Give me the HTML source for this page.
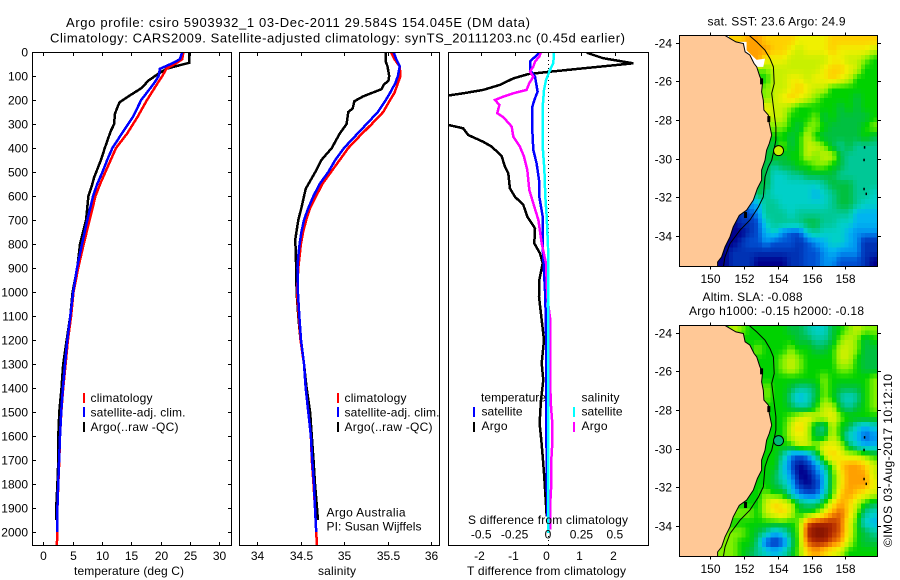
<!DOCTYPE html>
<html lang="en">
<head>
<meta charset="utf-8">
<title>Argo profile 5903932_1</title>
<style>
html,body{margin:0;padding:0;background:#fff;}
svg{display:block;}
text{font-family:"Liberation Sans",Arial,sans-serif;font-size:12px;fill:#000;}
.tt{font-size:13px;}
</style>
</head>
<body>
<svg id="chart" xmlns="http://www.w3.org/2000/svg" width="900" height="580" viewBox="0 0 900 580">
<defs>
<clipPath id="clip-temp"><rect x="32.5" y="52" width="199" height="494"/></clipPath>
<clipPath id="clip-sal"><rect x="239.5" y="52" width="200" height="494"/></clipPath>
<clipPath id="clip-diff"><rect x="448.5" y="52" width="200" height="494"/></clipPath>
<clipPath id="clip-sst"><rect x="679.5" y="35.5" width="198" height="231"/></clipPath>
<clipPath id="clip-sla"><rect x="679.5" y="325.5" width="198" height="231"/></clipPath>
</defs>
<rect width="900" height="580" fill="#fff"/>
<text class="tt" x="66" y="27" textLength="464" lengthAdjust="spacing">Argo profile: csiro 5903932_1 03-Dec-2011 29.584S 154.045E (DM data)</text>
<text class="tt" x="50" y="42.5" textLength="575" lengthAdjust="spacing">Climatology: CARS2009. Satellite-adjusted climatology: synTS_20111203.nc (0.45d earlier)</text>
<g id="temp-panel"></g>
<g id="sal-panel"></g>
<g id="diff-panel"></g>
<g id="sst-map"></g>
<g id="sla-map"></g>
<text x="74" y="575" textLength="110" lengthAdjust="spacing">temperature (deg C)</text>
<text x="318" y="575" textLength="38" lengthAdjust="spacing">salinity</text>
<text x="467" y="575" textLength="159" lengthAdjust="spacing">T difference from climatology</text>
<text x="468" y="524" textLength="160" lengthAdjust="spacing">S difference from climatology</text>
<g>
<rect x="83" y="393" width="2" height="10" fill="#f00"/>
<rect x="83" y="407" width="2" height="10" fill="#00f"/>
<rect x="83" y="422" width="2" height="10" fill="#000"/>
<text x="90.5" y="402" textLength="62" lengthAdjust="spacing">climatology</text>
<text x="90.5" y="416.5" textLength="95" lengthAdjust="spacing">satellite-adj. clim.</text>
<text x="90.5" y="431" textLength="88" lengthAdjust="spacing">Argo(..raw -QC)</text>
</g>
<g>
<rect x="337" y="393" width="2" height="10" fill="#f00"/>
<rect x="337" y="407" width="2" height="10" fill="#00f"/>
<rect x="337" y="422" width="2" height="10" fill="#000"/>
<text x="344.5" y="402" textLength="62" lengthAdjust="spacing">climatology</text>
<text x="344.5" y="416.5" textLength="95" lengthAdjust="spacing">satellite-adj. clim.</text>
<text x="344.5" y="431" textLength="88" lengthAdjust="spacing">Argo(..raw -QC)</text>
</g>
<text x="326.5" y="516.5" textLength="79" lengthAdjust="spacing">Argo Australia</text>
<text x="326.5" y="530.5" textLength="95" lengthAdjust="spacing">PI: Susan Wijffels</text>
<g>
<text x="481" y="401.5" textLength="65" lengthAdjust="spacing">temperature</text>
<text x="481.5" y="415.5" textLength="41" lengthAdjust="spacing">satellite</text>
<text x="481.5" y="430" textLength="26" lengthAdjust="spacing">Argo</text>
<rect x="473" y="407" width="2" height="10" fill="#00f"/>
<rect x="473" y="422" width="2" height="10" fill="#000"/>
<text x="581.5" y="401.5" textLength="38" lengthAdjust="spacing">salinity</text>
<text x="581.5" y="415.5" textLength="41" lengthAdjust="spacing">satellite</text>
<text x="581.5" y="430" textLength="26" lengthAdjust="spacing">Argo</text>
<rect x="573" y="407" width="2" height="10" fill="#0ff"/>
<rect x="573" y="422" width="2" height="10" fill="#f0f"/>
</g>
<text x="707.5" y="25.5" textLength="138" lengthAdjust="spacing">sat. SST: 23.6 Argo: 24.9</text>
<text x="702.5" y="301" textLength="100" lengthAdjust="spacing">Altim. SLA: -0.088</text>
<text x="689" y="315" textLength="175" lengthAdjust="spacing">Argo h1000: -0.15 h2000: -0.18</text>
<text transform="translate(892,547) rotate(-90)" x="0" y="0" textLength="173" lengthAdjust="spacing">©IMOS 03-Aug-2017 10:12:10</text>
</svg>
<script>
// ---- axis tick values ----
var depthTicks = [0,100,200,300,400,500,600,700,800,900,1000,1100,1200,1300,1400,1500,1600,1700,1800,1900,2000];
var tempTicks = [0,5,10,15,20,25,30];
var salTicks = [34,34.5,35,35.5,36];
var salTickLabels = ['34','34.5','35','35.5','36'];
var tDiffTicks = [-2,-1,0,1,2];
var sDiffTicks = [-0.5,-0.25,0,0.25,0.5];
var sDiffTickLabels = ['-0.5','-0.25','0','0.25','0.5'];
var lonTicks = [150,152,154,156,158];
var latTicks = [-24,-26,-28,-30,-32,-34];

// ---- temperature profiles ----
var climTempDepth = [0,30,45,70,100,130,200,270,340,400,450,500,550,600,700,800,900,1000,1100,1200,1300,1400,1500,1600,1700,1800,1900,2000,2057];
var climTemp = [23.9,23.7,22.8,21.0,20.3,19.5,17.7,16.1,14.3,12.4,11.5,10.6,9.7,8.9,7.9,6.9,5.95,5.15,4.75,4.2,3.8,3.4,3.07,2.85,2.73,2.56,2.4,2.4,2.3];
var satTempDepth = [0,30,45,70,100,130,200,270,340,400,450,500,550,600,700,800,900,1000,1100,1200,1300,1400,1500,1600,1700,1800,1900,2000];
var satTemp = [23.7,23.3,22.2,19.9,19.7,18.9,16.7,15.3,13.4,11.8,10.9,10.1,9.2,8.5,7.5,6.6,5.75,5.1,4.6,4.1,3.7,3.35,3.05,2.85,2.7,2.55,2.4,2.35];
var argoTempDepth = [0,45,55,70,95,120,150,185,210,240,260,300,330,400,450,520,560,600,700,800,900,1000,1100,1200,1300,1400,1500,1600,1700,1800,1900,1950];
var argoTemp = [24.9,24.9,23.3,21,19.35,17.9,16.8,14.5,13,12.5,12.2,12.1,11.5,10.5,9.85,8.7,8.26,7.7,7.3,6.26,5.8,5,4.6,4,3.4,3.1,2.73,2.56,2.56,2.4,2.2,2.2];

// ---- salinity profiles ----
var climSalDepth = [0,30,60,100,130,170,200,250,300,350,400,450,500,550,600,650,700,750,800,850,900,1000,1100,1200,1300,1400,1500,1600,1700,1800,1900,2000,2057];
var climSal = [35.54,35.58,35.64,35.65,35.62,35.58,35.53,35.45,35.32,35.18,35.05,34.95,34.85,34.75,34.68,34.61,34.565,34.53,34.505,34.49,34.475,34.46,34.48,34.5,34.54,34.56,34.59,34.62,34.63,34.65,34.667,34.68,34.69];
var satSalDepth = [0,30,60,100,130,170,200,250,300,350,400,450,500,550,600,650,700,750,800,850,900,1000,1100,1200,1300,1400,1500,1600,1700,1800,1900,2000];
var satSal = [35.57,35.6,35.64,35.62,35.59,35.53,35.48,35.39,35.26,35.13,35.0,34.9,34.82,34.72,34.65,34.59,34.54,34.51,34.49,34.475,34.465,34.47,34.486,34.506,34.54,34.56,34.59,34.62,34.635,34.655,34.667,34.68];
var argoSalDepth = [0,40,60,100,120,135,155,185,205,235,250,300,340,400,450,500,570,650,700,780,900,1000,1100,1200,1300,1400,1500,1600,1700,1800,1900,1950];
var argoSal = [35.48,35.48,35.5,35.52,35.51,35.46,35.43,35.22,35.12,35.1,35.05,35.03,34.95,34.86,34.74,34.67,34.56,34.51,34.475,34.44,34.45,34.455,34.475,34.5,34.54,34.57,34.61,34.63,34.65,34.667,34.69,34.7];

// ---- differences from climatology ----
var argoTDiffDepth = [0,5,26,47,82,92,110,137,158,172,186,297,318,346,374,394,433,478,506,568,603,637,686,735,797,839,880,950,1019,1117,1200,1297,1367,1450,1547,1617,1686,1755,1839,1936];
var argoTDiff = [1.16,1.2,1.65,2.55,0.06,-0.59,-1.04,-1.44,-1.94,-2.54,-3.2,-3.2,-2.54,-2.39,-1.94,-1.69,-1.39,-1.29,-1.19,-1.14,-0.99,-0.74,-0.62,-0.39,-0.41,-0.24,-0.16,-0.26,-0.27,-0.19,-0.12,-0.19,-0.14,-0.21,-0.25,-0.2,-0.16,-0.12,-0.08,-0.04];
var satTDiffDepth = [0,40,75,103,165,193,228,325,408,464,533,603,686,811,1019,1172,1450,1728,1936];
var satTDiff = [-0.24,-0.54,-0.54,-0.39,-0.31,-0.39,-0.47,-0.47,-0.44,-0.34,-0.27,-0.26,-0.16,-0.16,-0.08,-0.06,-0.06,-0.04,-0.02];
var argoSDiffDepth = [0,19,40,61,82,103,130,158,172,186,200,221,255,272,311,353,394,436,492,575,631,700,797,881,1019,1117,1172,1300,1400,1470,1547,1630,1700,1800,1900,1990];
var argoSDiff = [-0.052,-0.065,-0.097,-0.11,-0.135,-0.11,-0.14,-0.16,-0.26,-0.334,-0.397,-0.364,-0.38,-0.334,-0.272,-0.26,-0.21,-0.18,-0.155,-0.14,-0.11,-0.072,-0.047,-0.015,-0.005,0.017,0.017,0.017,0.017,0.022,0.032,0.032,0.025,0.025,0.015,0.015];
var satSDiffDepth = [0,47,75,117,158,228,394,492,603,686,811,1019,2005];
var satSDiff = [0.045,0.04,0.015,-0.015,-0.03,-0.04,-0.04,-0.027,-0.02,-0.01,0,0.002,0.002];

// ---- map values: one row per 0.5 deg latitude, one level code per column, '.' = no data ----
var sstRows = [
"......ccddccccbbbbcccccc",
".......ddddccbabbbcbbbba",
"........ddbbbaaaaabbaa98",
".........99aaaaaabccba88",
".........88aabbabbcba888",
".........99aabcbaa888888",
".........99abcba98888788",
".........bbaa98888878788",
"..........aaa88897877778",
"..........99987998777789",
"..........88878a87777787",
".........777978aa9767666",
".........778788a9aa76666",
"........7776778899876666",
"........7775566777766666",
"........7775555556777666",
".......44765555545677665",
".......33466555555677655",
"......112366656666666444",
".....0011256666776655444",
".....0001245322565554333",
"....00012232221234554311",
"....00111111111223433311",
"...000111000011223322210"
];
var slaRows = [
".....8a98888877655789a99",
".......8888888776679a978",
"........89888988778aa977",
".........8889a98888aa877",
".........8889a9888899877",
".........888888889888889",
".........898876679877789",
".........898864579865689",
"..........8887668aa76789",
"..........8889abaab98888",
"..........888aca76a87545",
".........8888aba77a85423",
".........88888aa9bba7544",
"........888863236acbaa98",
"........88885201369cddca",
"........88875300248bddda",
"........88876410148bdddb",
".......888988532258cdcba",
".......888acba7668bdca87",
"......9998abca889bdec965",
".....8888888889efffeb854",
".....9998764579fggfeb876",
".....9988621269effeda877",
"....99987654579cdcba8888"
];
var coastLon = [150.87,151.17,151.52,151.96,152.06,152.35,152.59,152.75,152.94,153.10,153.04,153.14,153.18,153.44,153.5,153.64,153.5,153.34,153.24,153.04,153.04,152.79,152.55,152.15,151.72,151.36,151.17,150.87,150.67,150.43,150.43];
var coastLat = [-23.64,-23.79,-23.97,-24.05,-24.48,-24.65,-25.08,-25.26,-25.77,-26.03,-26.55,-26.98,-27.49,-27.75,-28.18,-28.78,-29.21,-29.56,-30.08,-30.59,-31.11,-31.54,-32.14,-32.66,-32.92,-33.52,-34.03,-34.55,-35.07,-35.33,-35.6];
var contourLon = [152.31,152.75,153.24,153.54,153.74,153.79,153.64,153.74,153.89,153.89,153.77,153.64,153.44,153.24,153.14,152.85,152.35,151.76,151.17,150.87,150.77];
var contourLat = [-23.64,-23.97,-24.4,-24.83,-25.26,-26.12,-26.63,-27.32,-28.35,-29.04,-29.56,-30.08,-30.42,-30.94,-31.97,-32.49,-33.17,-33.69,-34.38,-35.07,-35.6];
var noDataLon = [151.52,152.15,152.15,152.45,152.75,153.24,153.14,152.7];
var noDataLat = [-23.97,-23.97,-24.4,-24.65,-24.9,-24.83,-25.26,-25.26];
var islandLon = [159.1,159.07,159.07,159.2];
var islandLat = [-29.35,-30,-31.5,-31.75];
var coastBlobLon = [152.95,153.38,152.0];
var coastBlobLat = [-25.85,-27.8,-32.75];
var profileLon = 154.045;
var profileLat = -29.584;

var levelColors = ['#00008c','#0032b4','#0050d2','#0090f0','#00b4f0','#00d0c8','#00c896','#00c040','#00d200','#80f000','#c8f000','#f0f000','#ffd000','#ffa000','#e06000','#b02800','#801000'];

var NS = 'http://www.w3.org/2000/svg';
function make(tag, attrs, parent) {
  var el = document.createElementNS(NS, tag);
  for (var k in attrs) el.setAttribute(k, attrs[k]);
  parent.appendChild(el);
  return el;
}

// axis functions
function depthY(d) { return 52 + 0.24 * d; }
function tempX(t) { return 43.3 + 5.86 * t; }
function salX(s) { return 257 + 87 * (s - 34); }
function tDiffX(t) { return 548 + 33.4 * t; }
function sDiffX(s) { return 548 + 133.6 * s; }
function lonX(lon) { return 710.3 + 16.87 * (lon - 150); }
function latY(lat, top) { return top + 7 + 19.37 * (-24 - lat); }

function drawProfile(parent, clipId, name, color, depths, values, xFn, width) {
  var pts = [];
  for (var i = 0; i < depths.length; i++) pts.push(xFn(values[i]).toFixed(1) + ',' + depthY(depths[i]).toFixed(1));
  var line = make('polyline', {points: pts.join(' '), fill: 'none', stroke: color, 'stroke-width': width, 'clip-path': 'url(#' + clipId + ')', 'shape-rendering': 'crispEdges'}, parent);
  
  
}

function frame(parent, x, y, w, h) {
  var r = make('rect', {x: x, y: y, width: w, height: h, fill: 'none', stroke: '#000', 'stroke-width': 1, 'shape-rendering': 'crispEdges'}, parent);
  
  
}
function tick(parent, x1, y1, x2, y2) {
  var t = make('line', {x1: x1, y1: y1, x2: x2, y2: y2, stroke: '#000', 'stroke-width': 1, 'shape-rendering': 'crispEdges'}, parent);
  
  
}
function label(parent, x, y, str, anchor) {
  var t = make('text', {x: x, y: y, 'text-anchor': anchor}, parent);
  t.textContent = str;
  
  
}

// temperature panel
var tp = document.getElementById('temp-panel');
drawProfile(tp, 'clip-temp', 'series-argo-temperature', '#000', argoTempDepth, argoTemp, tempX, 2.5);
drawProfile(tp, 'clip-temp', 'series-climatology-temperature', '#f00', climTempDepth, climTemp, tempX, 2.5);
drawProfile(tp, 'clip-temp', 'series-satellite-temperature', '#00f', satTempDepth, satTemp, tempX, 2.5);
frame(tp, 32.5, 52.5, 199, 493);
depthTicks.forEach(function (d) {
  var y = Math.round(depthY(d)) + 0.5;
  tick(tp, 32.5, y, 36, y);
  tick(tp, 228, y, 231.5, y);
  label(tp, 28, y + 4, String(d), 'end');
});
tempTicks.forEach(function (t) {
  var x = Math.round(tempX(t)) + 0.5;
  tick(tp, x, 52.5, x, 56);
  tick(tp, x, 542, x, 545.5);
  label(tp, x, 560, String(t), 'middle');
});

// salinity panel
var sp = document.getElementById('sal-panel');
drawProfile(sp, 'clip-sal', 'series-argo-salinity', '#000', argoSalDepth, argoSal, salX, 2.5);
drawProfile(sp, 'clip-sal', 'series-climatology-salinity', '#f00', climSalDepth, climSal, salX, 2.5);
drawProfile(sp, 'clip-sal', 'series-satellite-salinity', '#00f', satSalDepth, satSal, salX, 2.5);
frame(sp, 239.5, 52.5, 200, 493);
salTicks.forEach(function (s, i) {
  var x = Math.round(salX(s)) + 0.5;
  tick(sp, x, 52.5, x, 56);
  tick(sp, x, 542, x, 545.5);
  label(sp, x, 560, salTickLabels[i], 'middle');
});

// difference panel
var dp = document.getElementById('diff-panel');
var zero = make('line', {x1: 548.5, y1: 52, x2: 548.5, y2: 545, stroke: '#000', 'stroke-width': 1, 'stroke-dasharray': '1 3', 'shape-rendering': 'crispEdges'}, dp);


drawProfile(dp, 'clip-diff', 'series-argo-t-difference', '#000', argoTDiffDepth, argoTDiff, tDiffX, 2.5);
drawProfile(dp, 'clip-diff', 'series-satellite-t-difference', '#00f', satTDiffDepth, satTDiff, tDiffX, 2.5);
drawProfile(dp, 'clip-diff', 'series-argo-s-difference', '#f0f', argoSDiffDepth, argoSDiff, sDiffX, 2.5);
drawProfile(dp, 'clip-diff', 'series-satellite-s-difference', '#0ff', satSDiffDepth, satSDiff, sDiffX, 2.5);
frame(dp, 448.5, 52.5, 200, 493);
tDiffTicks.forEach(function (t) {
  var x = Math.round(tDiffX(t)) + 0.5;
  tick(dp, x, 52.5, x, 56);
  label(dp, x - 2, 560, String(t), 'middle');
});
sDiffTicks.forEach(function (s, i) {
  label(dp, sDiffX(s), 538.5, sDiffTickLabels[i], 'middle');
});

// colour for a fractional level, blending neighbouring palette entries
function hexPart(hex, p) { return parseInt(hex.substr(1 + 2 * p, 2), 16); }
function levelColor(v) {
  var lo = Math.floor(v), hi = Math.min(lo + 1, levelColors.length - 1), f = v - lo, out = [];
  for (var p = 0; p < 3; p++) out.push(Math.round(hexPart(levelColors[lo], p) * (1 - f) + hexPart(levelColors[hi], p) * f));
  return 'rgb(' + out.join(',') + ')';
}
// bilinear sample of the level grid at fractional cell coordinates
function sampleLevel(rows, fx, fy, own) {
  var x0 = Math.floor(fx - 0.5), y0 = Math.floor(fy - 0.5), tx = fx - 0.5 - x0, ty = fy - 0.5 - y0;
  function at(cx, cy) {
    cx = Math.max(0, Math.min(23, cx));
    cy = Math.max(0, Math.min(23, cy));
    var c = rows[cy].charAt(cx);
    return c === '.' ? own : parseInt(c, 36);
  }
  return (at(x0, y0) * (1 - tx) + at(x0 + 1, y0) * tx) * (1 - ty) + (at(x0, y0 + 1) * (1 - tx) + at(x0 + 1, y0 + 1) * tx) * ty;
}

// maps
function drawMap(g, rows, top, clipId, markerFill, showNoData) {
  var cellW = 198 / 24, cellH = 231 / 24, sub = 2;
  var cells = make('g', {'clip-path': 'url(#' + clipId + ')', 'shape-rendering': 'crispEdges'}, g);
  
  
  rows.forEach(function (row, j) {
    for (var i = 0; i < 24; i++) {
      var code = row.charAt(i);
      if (code === '.') continue;
      var own = parseInt(code, 36);
      for (var s = 0; s < sub; s++) {
        for (var t = 0; t < sub; t++) {
          var v = sampleLevel(rows, i + (s + 0.5) / sub, j + (t + 0.5) / sub, own);
          var c = make('rect', {x: 679.5 + (i + s / sub) * cellW, y: top + (j + t / sub) * cellH, width: cellW / sub + 0.5, height: cellH / sub + 0.5, fill: levelColor(v)}, cells);
          
          
        }
      }
    }
  });
  if (showNoData) {
    var nd = [];
    for (var q = 0; q < noDataLon.length; q++) nd.push(lonX(noDataLon[q]).toFixed(1) + ',' + latY(noDataLat[q], top).toFixed(1));
    var noData = make('polygon', {points: nd.join(' '), fill: '#fff'}, g);
    
    
  }
  var pts = ['679.5,' + (top - 1)];
  for (var k = 0; k < coastLon.length; k++) pts.push(lonX(coastLon[k]).toFixed(1) + ',' + latY(coastLat[k], top).toFixed(1));
  pts.push('679.5,' + (top + 232));
  var land = make('polygon', {points: pts.join(' '), fill: '#ffc896', stroke: '#000', 'stroke-width': 1, 'clip-path': 'url(#' + clipId + ')'}, g);
  
  
  var cpts = [];
  for (var m = 0; m < contourLon.length; m++) cpts.push(lonX(contourLon[m]).toFixed(1) + ',' + latY(contourLat[m], top).toFixed(1));
  var contour = make('polyline', {points: cpts.join(' '), fill: 'none', stroke: '#000', 'stroke-width': 1, 'clip-path': 'url(#' + clipId + ')'}, g);
  
  
  for (var n = 0; n < islandLon.length; n++) {
    var isl = make('rect', {x: lonX(islandLon[n]), y: latY(islandLat[n], top), width: 1.5, height: 2.5, fill: '#000'}, g);
    
    
  }
  for (var b = 0; b < coastBlobLon.length; b++) {
    var blob = make('rect', {x: lonX(coastBlobLon[b]), y: latY(coastBlobLat[b], top), width: 3, height: 6, fill: '#000'}, g);
    
    
  }
  var mk = make('circle', {cx: lonX(profileLon), cy: latY(profileLat, top), r: 5, fill: markerFill, stroke: '#000', 'stroke-width': 1}, g);
  
  
  var border = make('rect', {x: 679.5, y: top, width: 198, height: 231, fill: 'none', stroke: '#000', 'stroke-width': 1, 'shape-rendering': 'crispEdges'}, g);
  
  
  lonTicks.forEach(function (lon) {
    var x = Math.round(lonX(lon)) + 0.5;
    tick(g, x, top - 3, x, top);
    tick(g, x, top + 231, x, top + 234);
    label(g, x, top + 247.5, String(lon), 'middle');
  });
  latTicks.forEach(function (lat) {
    var y = Math.round(latY(lat, top)) + 0.5;
    tick(g, 676, y, 679.5, y);
    tick(g, 877.5, y, 881, y);
    label(g, 672, y + 4, String(lat), 'end');
  });
}
drawMap(document.getElementById('sst-map'), sstRows, 35.5, 'clip-sst', '#c8f000', true);
drawMap(document.getElementById('sla-map'), slaRows, 325.5, 'clip-sla', '#00b878', false);
</script>
</body>
</html>
